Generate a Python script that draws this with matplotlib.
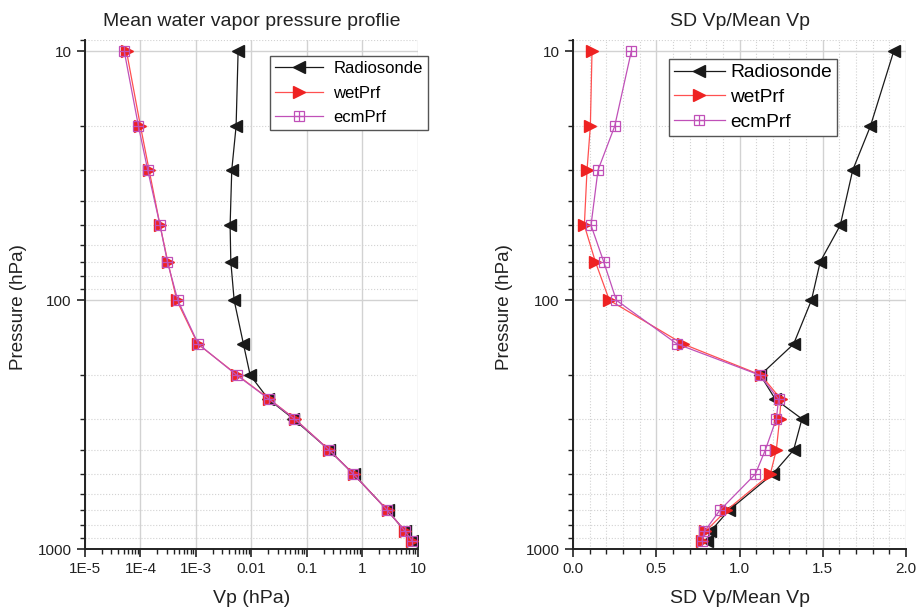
import matplotlib
matplotlib.use("Agg")
import matplotlib.pyplot as plt
from matplotlib.ticker import FixedLocator, FixedFormatter, LogLocator, MultipleLocator, NullFormatter

plt.rcParams['font.family'] = ['Liberation Sans', 'DejaVu Sans']

pressure = [10, 20, 30, 50, 70, 100, 150, 200, 250, 300, 400, 500, 700, 850, 925]

# Mean water vapor pressure (hPa)
vp_radiosonde = [0.00574, 0.00528, 0.00441, 0.00412, 0.00424, 0.00487, 0.00716, 0.00946,
                 0.0202, 0.0571, 0.251, 0.690, 2.83, 5.90, 7.79]
vp_wetprf = [5.6e-5, 1.0e-4, 1.43e-4, 2.25e-4, 3.1e-4, 4.5e-4, 1.08e-3, 5.58e-3,
             0.0211, 0.0604, 0.251, 0.690, 2.83, 5.90, 7.80]
vp_ecmprf = [5.1e-5, 9.2e-5, 1.35e-4, 2.25e-4, 3.05e-4, 4.7e-4, 1.1e-3, 5.4e-3,
             0.0208, 0.0595, 0.250, 0.688, 2.82, 5.88, 7.75]

# SD Vp / Mean Vp
sd_radiosonde = [1.926, 1.786, 1.680, 1.605, 1.485, 1.432, 1.325, 1.125,
                 1.215, 1.375, 1.325, 1.199, 0.935, 0.825, 0.805]
sd_wetprf = [0.114, 0.104, 0.084, 0.068, 0.134, 0.218, 0.661, 1.129,
             1.249, 1.241, 1.221, 1.185, 0.921, 0.795, 0.775]
sd_ecmprf = [0.350, 0.250, 0.150, 0.108, 0.184, 0.260, 0.625, 1.121,
             1.235, 1.221, 1.155, 1.095, 0.881, 0.789, 0.775]

series_names = ["Radiosonde", "wetPrf", "ecmPrf"]
left_xticks = [1e-5, 1e-4, 1e-3, 1e-2, 1e-1, 1, 10]
left_xticklabels = ["1E-5", "1E-4", "1E-3", "0.01", "0.1", "1", "10"]
yticks = [10, 100, 1000]
yticklabels = ["10", "100", "1000"]

BLACK = "#1a1a1a"
RED = "#ee2222"
RED_LINE = "#ff5050"
MAG = "#c050b8"
GRID = "#d2d2d2"
TXT = "#222222"

fig = plt.figure(figsize=(9.17, 6.09), dpi=100)
axL = fig.add_axes([0.0927, 0.0985, 0.3631, 0.8358])
axR = fig.add_axes([0.6249, 0.0985, 0.3631, 0.8358])


def draw(ax, xr, xw, xe):
    l1, = ax.plot(xr, pressure, color=BLACK, lw=0.9, marker='<', ms=8,
                  mfc=BLACK, mec=BLACK, zorder=4)
    l2, = ax.plot(xw, pressure, color=RED_LINE, lw=0.9, marker='>', ms=8,
                  mfc=RED, mec=RED, zorder=5)
    l3, = ax.plot(xe, pressure, color=MAG, lw=0.9, marker='s', ms=7,
                  mfc='none', mec=MAG, mew=0.9, zorder=6)
    l3b, = ax.plot(xe, pressure, ls='none', marker='+', ms=7,
                   mec=MAG, mew=0.9, zorder=6)
    return [l1, l2, (l3, l3b)]


def style(ax):
    ax.set_yscale('log')
    ax.set_ylim(1000, 9.0)
    ax.yaxis.set_major_locator(FixedLocator(yticks))
    ax.yaxis.set_major_formatter(FixedFormatter(yticklabels))
    ax.yaxis.set_minor_locator(LogLocator(base=10, subs=range(2, 10)))
    ax.yaxis.set_minor_formatter(NullFormatter())
    for s in ['top', 'right']:
        ax.spines[s].set_visible(False)
    for s in ['left', 'bottom']:
        ax.spines[s].set_linewidth(1.4)
        ax.spines[s].set_color(TXT)
    ax.tick_params(which='major', direction='out', length=6, width=1.2,
                   labelsize=11, colors=TXT)
    ax.tick_params(which='minor', direction='out', length=3.5, width=1.0,
                   colors=TXT)
    ax.grid(True, which='major', axis='both', color=GRID, lw=1.0, ls='-')
    ax.grid(True, which='minor', axis='y', color=GRID, lw=0.8, ls=':')
    ax.set_axisbelow(True)


hL = draw(axL, vp_radiosonde, vp_wetprf, vp_ecmprf)
style(axL)
axL.set_xscale('log')
axL.set_xlim(1e-5, 10)
axL.xaxis.set_major_locator(FixedLocator(left_xticks))
axL.xaxis.set_major_formatter(FixedFormatter(left_xticklabels))
axL.xaxis.set_minor_locator(LogLocator(base=10, subs=range(2, 10)))
axL.xaxis.set_minor_formatter(NullFormatter())
axL.set_xlabel("Vp (hPa)", fontsize=14, color=TXT, labelpad=10)
axL.set_ylabel("Pressure (hPa)", fontsize=13.5, color=TXT)
axL.yaxis.set_label_coords(-0.174, 0.476)
axL.set_title("Mean water vapor pressure proflie", fontsize=14, color=TXT, pad=10)

hR = draw(axR, sd_radiosonde, sd_wetprf, sd_ecmprf)
style(axR)
axR.set_xlim(0, 2.0)
axR.xaxis.set_major_locator(MultipleLocator(0.5))
axR.xaxis.set_minor_locator(MultipleLocator(0.1))
axR.xaxis.set_major_formatter(plt.FuncFormatter(lambda v, p: f"{v:.1f}"))
axR.grid(True, which='minor', axis='x', color=GRID, lw=0.8, ls=':')
axR.set_xlabel("SD Vp/Mean Vp", fontsize=14, color=TXT, labelpad=10)
axR.set_ylabel("Pressure (hPa)", fontsize=13.5, color=TXT)
axR.yaxis.set_label_coords(-0.180, 0.476)
axR.set_title("SD Vp/Mean Vp", fontsize=14, color=TXT, pad=10)

legend_cfg = [
    (axL, hL, (1.03, 0.969), 12, 2.9, 0.57, 0.32, 0.6),
    (axR, hR, (0.793, 0.963), 13.8, 2.65, 0.385, 0.26, 0.3),
]
for ax, h, anchor, fs, hl, ls, bp, htp in legend_cfg:
    leg = ax.legend(h, series_names, loc='upper right', bbox_to_anchor=anchor,
                    fontsize=fs, frameon=True, fancybox=False, framealpha=1,
                    edgecolor='#555555', handlelength=hl, borderpad=bp,
                    labelspacing=ls, handletextpad=htp, borderaxespad=0)
    leg.get_frame().set_linewidth(1.0)

fig.savefig("out.png", dpi=100)
